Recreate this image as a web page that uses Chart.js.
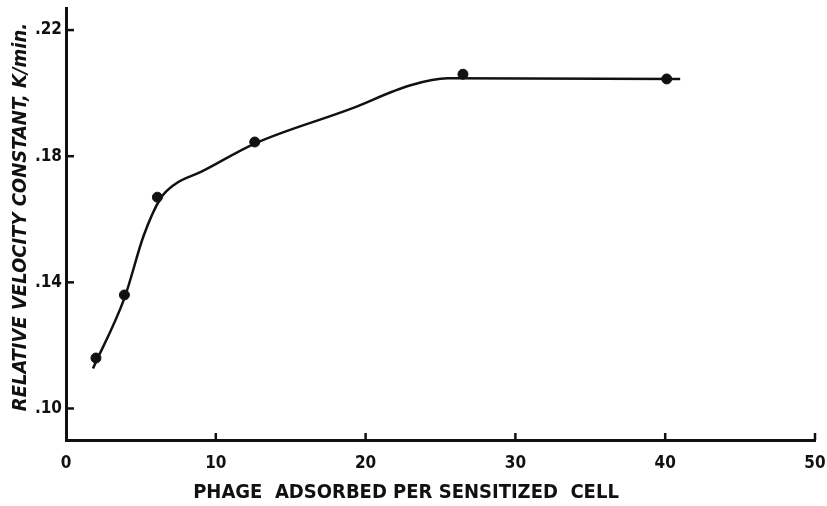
<!DOCTYPE html>
<html>
<head>
<meta charset="utf-8">
<script src="https://cdn.jsdelivr.net/npm/chart.js@4/dist/chart.umd.min.js"></script>
<style>
  html, body { margin: 0; padding: 0; background: #fff; }
  #wrap { width: 827px; height: 506px; position: relative; }
</style>
</head>
<body>
<div id="wrap"><canvas id="chart"></canvas></div>
<script>
// measured points
const phageX = [2.0, 3.9, 6.1, 12.6, 26.5, 40.1];
const velocityK = [0.116, 0.136, 0.167, 0.1845, 0.206, 0.2045];

// hand-drawn curve
const curveX = [1.8, 3.9, 5.2, 6.3, 7.3, 9.0, 12.6, 19.0, 23.0, 25.5, 41];
const curveY = [0.1127, 0.135, 0.155, 0.1665, 0.1712, 0.1750, 0.1840, 0.1950, 0.2025, 0.2047, 0.2045];

const xTicks = [0, 10, 20, 30, 40, 50];
const yTicks = [0.10, 0.14, 0.18, 0.22];

const ink = '#111';
const labelFont = { family: "'DejaVu Sans Condensed', 'DejaVu Sans'", size: 17, weight: 'bold' };

const inwardTicks = {
    id: 'inwardTicks',
    afterDraw(chart) {
        const c = chart.ctx, xs = chart.scales.x, ys = chart.scales.y;
        c.save();
        c.strokeStyle = ink;
        c.lineWidth = 2.5;
        xTicks.forEach(v => {
            if (v === 0) return;
            const px = xs.getPixelForValue(v);
            c.beginPath(); c.moveTo(px, ys.bottom); c.lineTo(px, ys.bottom - 7); c.stroke();
        });
        yTicks.forEach(v => {
            const py = ys.getPixelForValue(v);
            c.beginPath(); c.moveTo(xs.left, py); c.lineTo(xs.left + 8, py); c.stroke();
        });
        // axis titles
        c.fillStyle = ink;
        c.font = "bold 20px 'DejaVu Sans Condensed', 'DejaVu Sans'";
        c.textAlign = 'center';
        c.textBaseline = 'middle';
        c.fillText('PHAGE  ADSORBED PER SENSITIZED  CELL', 406, 493);
        c.translate(21, 217);
        c.rotate(-Math.PI / 2);
        c.font = "italic bold 20px 'DejaVu Sans Condensed', 'DejaVu Sans'";
        c.fillText('RELATIVE VELOCITY CONSTANT, K/min.', 0, 0);
        c.restore();
    }
};

new Chart(document.getElementById('chart').getContext('2d'), {
    type: 'scatter',
    data: {
        datasets: [{
            type: 'line',
            data: curveX.map((x, i) => ({ x, y: curveY[i] })),
            borderColor: ink,
            borderWidth: 2.5,
            pointRadius: 0,
            cubicInterpolationMode: 'monotone',
            fill: false
        }, {
            data: phageX.map((x, i) => ({ x, y: velocityK[i] })),
            backgroundColor: ink,
            borderColor: ink,
            pointRadius: 5,
            pointHoverRadius: 5
        }]
    },
    options: {
        responsive: true,
        maintainAspectRatio: false,
        animation: false,
        layout: { padding: { top: 8, right: 12, left: 0, bottom: 0 } },
        plugins: { legend: { display: false }, tooltip: { enabled: false } },
        scales: {
            x: {
                type: 'linear',
                min: 0, max: 50,
                afterBuildTicks: s => { s.ticks = xTicks.map(v => ({ value: v })); },
                afterFit: s => { s.height = 66; s.paddingRight = 0; s.paddingLeft = 0; },
                grid: { display: false, drawTicks: false },
                border: { color: ink, width: 3 },
                ticks: { color: ink, font: labelFont, padding: 13 }
            },
            y: {
                min: 0.09, max: 0.227,
                afterBuildTicks: s => { s.ticks = yTicks.map(v => ({ value: v })); },
                afterFit: s => { s.width = 66; s.paddingTop = 0; s.paddingBottom = 0; },
                grid: { display: false, drawTicks: false },
                border: { color: ink, width: 3 },
                ticks: { color: ink, font: labelFont, padding: 4, callback: v => '.' + Math.round(v * 100) }
            }
        }
    },
    plugins: [inwardTicks]
});
</script>
</body>
</html>
